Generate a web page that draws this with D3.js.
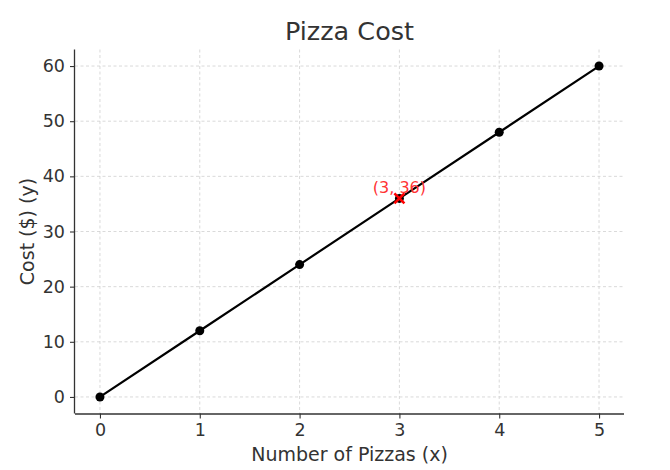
<!DOCTYPE html>
<html><head><meta charset="utf-8">
<script src="https://cdn.jsdelivr.net/npm/d3@7"></script>
<style>body{margin:0;background:#fff;} text{font-family:"DejaVu Sans",sans-serif;}</style>
</head><body>
<svg id="c" width="670" height="470"></svg>
<script>
const pizzas = [0, 1, 2, 3, 4, 5];
const costs = [0, 12, 24, 36, 48, 60];
const highlight = {x: 3, y: 36, label: "(3, 36)"};
const xTicks = [0, 1, 2, 3, 4, 5];
const yTicks = [0, 10, 20, 30, 40, 50, 60];

const svg = d3.select("#c");
const L = 75, R = 624, T = 49.5, B = 413.5;
const x = d3.scaleLinear().domain([-0.25, 5.25]).range([L, R]);
const y = d3.scaleLinear().domain([-3, 63]).range([B, T]);
const txt = "#333";

// grid
const g = svg.append("g");
g.selectAll("line.vx").data(xTicks).enter().append("line")
  .attr("x1", d => x(d)).attr("x2", d => x(d)).attr("y1", T).attr("y2", B)
  .attr("stroke", "#d0d0d0").attr("stroke-width", 0.8).attr("stroke-dasharray", "3,2.5");
g.selectAll("line.hy").data(yTicks).enter().append("line")
  .attr("y1", d => y(d)).attr("y2", d => y(d)).attr("x1", L).attr("x2", R)
  .attr("stroke", "#d0d0d0").attr("stroke-width", 0.8).attr("stroke-dasharray", "3,2.5");

// axes
const xa = svg.append("g").attr("transform", `translate(0,${B})`)
  .call(d3.axisBottom(x).tickValues(xTicks).tickFormat(d3.format("d")).tickSize(5).tickSizeOuter(0).tickPadding(5));
const ya = svg.append("g").attr("transform", `translate(${L},0)`)
  .call(d3.axisLeft(y).tickValues(yTicks).tickFormat(d3.format("d")).tickSize(5).tickSizeOuter(0).tickPadding(5));
[xa, ya].forEach(a => {
  a.select(".domain").attr("stroke", txt).attr("stroke-width", 1.3);
  a.selectAll(".tick line").attr("stroke", txt).attr("stroke-width", 1.1);
  a.selectAll(".tick text").attr("fill", txt).style("font-size", "17.5px").style("font-family", "DejaVu Sans");
});
xa.select(".domain").attr("d", `M${L},0.5H${R}`);
ya.select(".domain").attr("d", `M-0.5,${T}V${B}`);

// line
const pts = pizzas.map((p, i) => [p, costs[i]]);
svg.append("path").datum(pts)
  .attr("d", d3.line().x(d => x(d[0])).y(d => y(d[1])))
  .attr("fill", "none").attr("stroke", "#000").attr("stroke-width", 2.2);
svg.selectAll("circle.p").data(pts).enter().append("circle")
  .attr("cx", d => x(d[0])).attr("cy", d => y(d[1])).attr("r", 4.5).attr("fill", "#000");

// highlight
const hx = x(highlight.x), hy = y(highlight.y), s = 5;
svg.append("path")
  .attr("d", `M${hx-s},${hy-s}L${hx+s},${hy+s}M${hx-s},${hy+s}L${hx+s},${hy-s}`)
  .attr("stroke", "#ff0000").attr("stroke-width", 2.6).attr("fill", "none");
svg.append("text").attr("x", hx).attr("y", hy - 5).attr("text-anchor", "middle")
  .attr("fill", "#ff3333").style("font-size", "16px").text(highlight.label);

// labels
svg.append("text").attr("x", (L + R) / 2).attr("y", 40).attr("text-anchor", "middle")
  .attr("fill", txt).style("font-size", "25.5px").text("Pizza Cost");
svg.append("text").attr("x", (L + R) / 2 ).attr("y", 461).attr("text-anchor", "middle")
  .attr("fill", txt).style("font-size", "19px").text("Number of Pizzas (x)");
svg.append("text").attr("transform", `translate(34,${(T + B) / 2}) rotate(-90)`).attr("text-anchor", "middle")
  .attr("fill", txt).style("font-size", "19px").text("Cost ($) (y)");
</script>
</body></html>
